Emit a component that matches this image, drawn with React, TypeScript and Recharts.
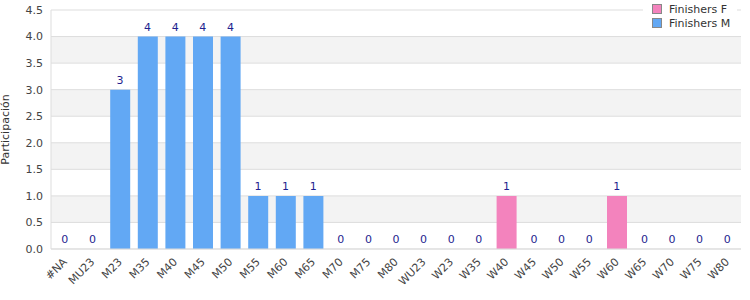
import { Bar, CartesianGrid, ComposedChart, LabelList, Line, XAxis, YAxis } from "recharts";

const categories = ["#NA", "MU23", "M23", "M35", "M40", "M45", "M50", "M55", "M60", "M65", "M70", "M75", "M80", "WU23", "W23", "W35", "W40", "W45", "W50", "W55", "W60", "W65", "W70", "W75", "W80"];
const finishersF = [0, 0, 0, 0, 0, 0, 0, 0, 0, 0, 0, 0, 0, 0, 0, 0, 1, 0, 0, 0, 1, 0, 0, 0, 0];
const finishersM = [0, 0, 3, 4, 4, 4, 4, 1, 1, 1, 0, 0, 0, 0, 0, 0, 0, 0, 0, 0, 0, 0, 0, 0, 0];
const yTicks = [0, 0.5, 1, 1.5, 2, 2.5, 3, 3.5, 4, 4.5];

const data = categories.map((name, i) => ({
  name,
  F: finishersF[i],
  M: finishersM[i],
  total: finishersF[i] + finishersM[i],
}));

const FONT = "DejaVu Sans, sans-serif";
const PINK = "#f383bd";
const BLUE = "#62a8f4";

const XTick = ({ x, y, payload }: any) => (
  <text
    x={x}
    y={y}
    transform={`rotate(-45 ${x} ${y})`}
    textAnchor="end"
    dx={-2}
    dy={6}
    fontSize={11}
    fontFamily={FONT}
    fill="#444"
  >
    {payload.value}
  </text>
);

const legendItems = [
  { label: "Finishers F", color: PINK },
  { label: "Finishers M", color: BLUE },
];

const LegendBox = () => (
  <div
    style={{
      position: "absolute",
      top: 0,
      left: 643,
      background: "#fff",
      width: 94,
      height: 34,
      fontFamily: FONT,
      fontSize: 11,
      color: "#333",
      paddingTop: 2,
      boxSizing: "border-box",
    }}
  >
    {legendItems.map((it) => (
      <div key={it.label} style={{ display: "flex", alignItems: "center", height: 14 }}>
        <span
          style={{
            display: "inline-block",
            width: 8,
            height: 8,
            background: it.color,
            border: "1px solid #888",
            marginLeft: 9,
            marginRight: 7,
          }}
        />
        {it.label}
      </div>
    ))}
  </div>
);

export default function App() {
  return (
    <div style={{ position: "absolute", left: 0, top: 0, width: 750, height: 300, background: "#fff" }}>
      <ComposedChart
        width={750}
        height={300}
        data={data}
        margin={{ top: 10, right: 9, bottom: 0, left: 0 }}
        barSize={20}
      >
        <CartesianGrid
          vertical={false}
          stroke="#dddddd"
          horizontalFill={["#ffffff", "#f3f3f3"]}
        />
        <XAxis
          dataKey="name"
          interval={0}
          tickLine={false}
          axisLine={{ stroke: "#dddddd" }}
          tick={<XTick />}
          height={51}
        />
        <XAxis xAxisId="top" orientation="top" dataKey="name" tick={false} tickLine={false} axisLine={{ stroke: "#dddddd" }} height={0} />
        <YAxis
          domain={[0, 4.5]}
          ticks={yTicks}
          tickFormatter={(v: number) => v.toFixed(1)}
          tickLine={false}
          axisLine={{ stroke: "#dddddd" }}
          tick={{ fontSize: 11, fontFamily: FONT, fill: "#444" }}
          width={51}
          label={{ value: "Participación", angle: -90, position: "insideLeft", offset: 5, style: { fontSize: 11, fontFamily: FONT, fill: "#333", textAnchor: "middle" } }}
        />
        <YAxis yAxisId="right" orientation="right" tick={false} tickLine={false} axisLine={{ stroke: "#dddddd" }} width={0} />
        <Bar dataKey="F" stackId="a" fill={PINK} isAnimationActive={false} />
        <Bar dataKey="M" stackId="a" fill={BLUE} isAnimationActive={false} />
        <Line dataKey="total" stroke="none" dot={false} activeDot={false} isAnimationActive={false}>
          <LabelList
            dataKey="total"
            position="top"
            offset={6}
            style={{ fontSize: 11, fontFamily: FONT, fill: "#1f1f8f" }}
          />
        </Line>
      </ComposedChart>
      <LegendBox />
    </div>
  );
}
